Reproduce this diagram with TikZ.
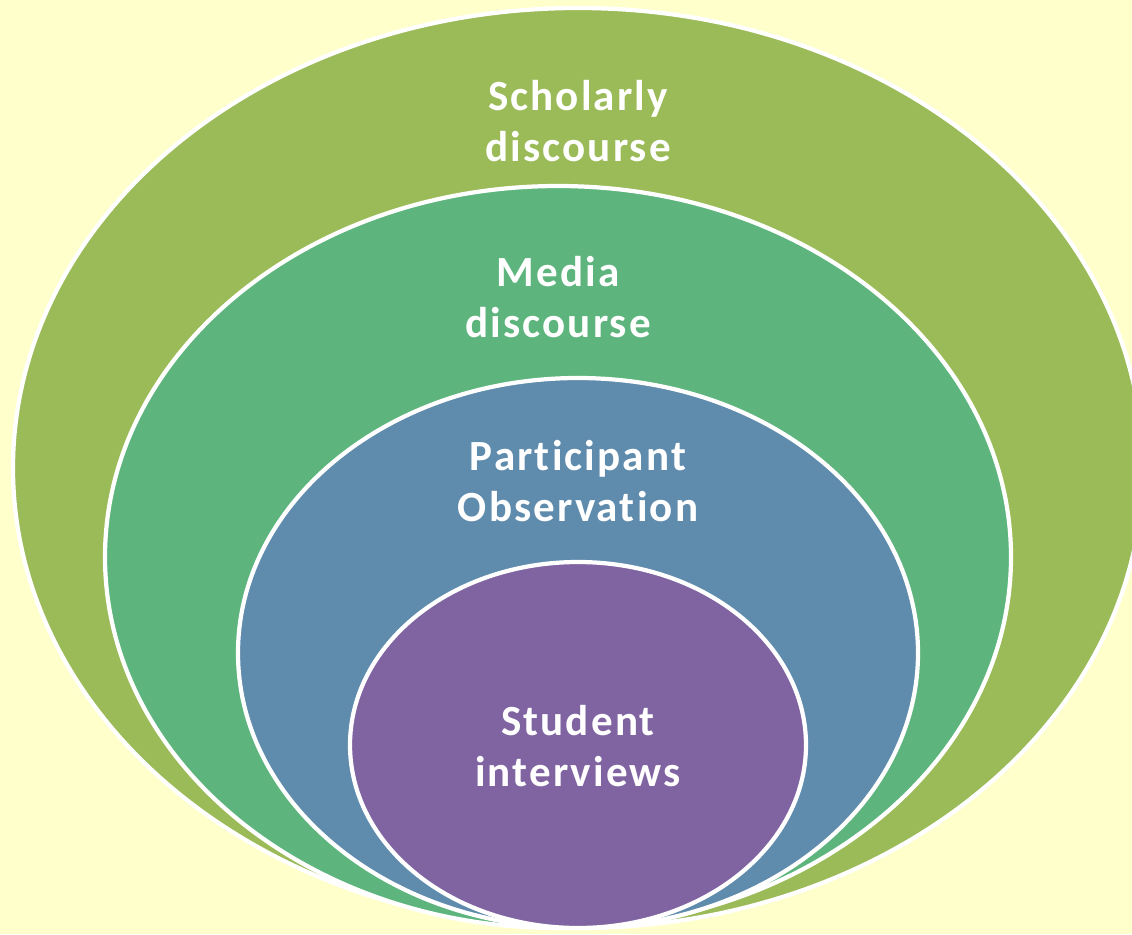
\documentclass[tikz,border=0pt]{standalone}
\usepackage{fontspec}
\setmainfont{Carlito}[Ligatures=NoCommon, LetterSpace=5]
\usetikzlibrary{shapes.geometric}

\definecolor{bgyellow}{HTML}{FFFFCC}
\definecolor{olive}{HTML}{9BBB59}
\definecolor{seagreen}{HTML}{5DB47D}
\definecolor{steelblue}{HTML}{5F8BAD}
\definecolor{lavender}{HTML}{8064A2}

\begin{document}
\begin{tikzpicture}
	\tikzstyle{ring}=[ellipse, draw=white, line width=2.4pt, inner sep=0pt]
	\tikzstyle{label}=[text=white, align=center, font=\fontsize{24.5}{29.5}\selectfont\bfseries]

	% background
	\fill[bgyellow] (0, 0) rectangle (22.64, -18.68);
	\useasboundingbox (0, 0) rectangle (22.64, -18.68);

	% scholarly
	\node[ring, fill=olive, minimum width=22.6cm, minimum height=18.4cm](Scholarly) at (11.56, -9.36) {};

	% media
	\node[ring, fill=seagreen, minimum width=18.12cm, minimum height=14.84cm](Media) at (11.16, -11.14) {};

	% participant
	\node[ring, fill=steelblue, minimum width=13.6cm, minimum height=11.0cm](Participant) at (11.56, -13.06) {};

	% student
	\node[ring, fill=lavender, minimum width=9.12cm, minimum height=7.32cm](Student) at (11.56, -14.9) {};

	% labels
	\node[label](Scholarly_Text) at (11.56, -2.42) {Scholarly\\discourse};
	\node[label](Media_Text) at (11.16, -5.94) {Media\\discourse};
	\node[label](Participant_Text) at (11.56, -9.62) {Participant\\Observation};
	\node[label](Student_Text) at (11.56, -14.92) {Student\\interviews};
\end{tikzpicture}
\end{document}
